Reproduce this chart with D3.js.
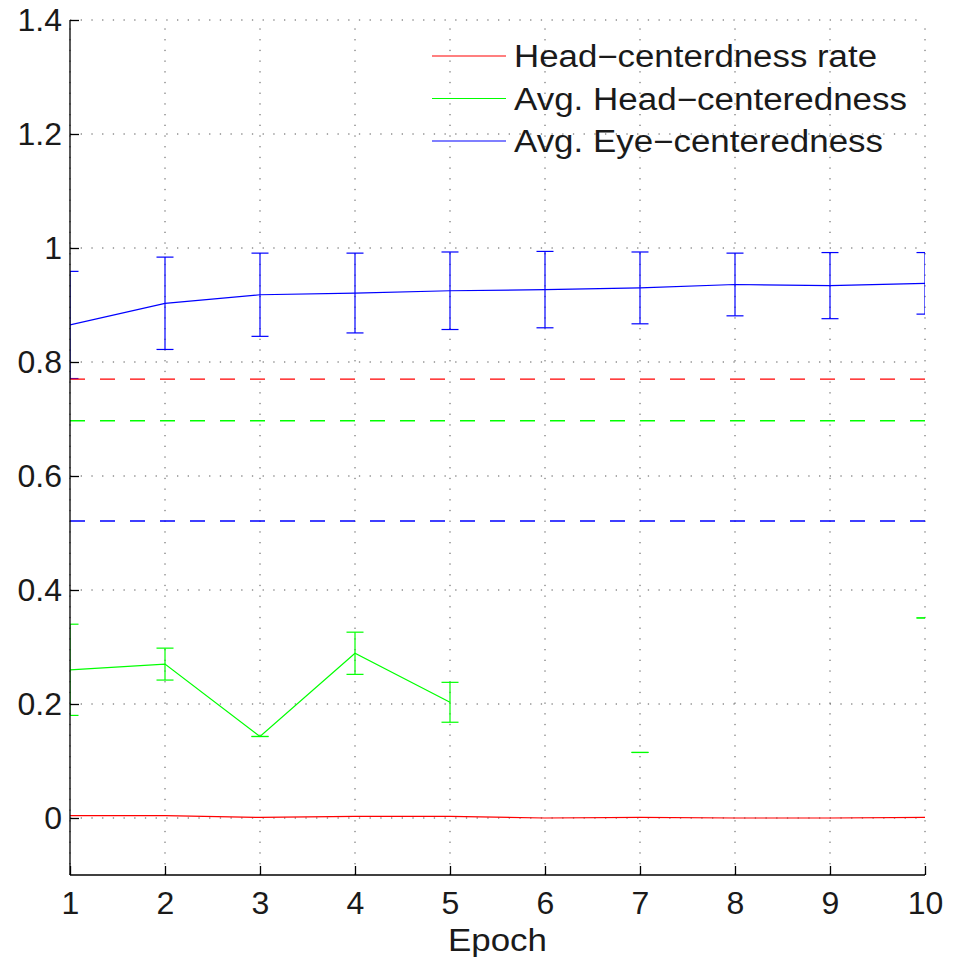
<!DOCTYPE html>
<html>
<head>
<meta charset="utf-8">
<script src="https://cdn.jsdelivr.net/npm/d3@7"></script>
<style>
  html, body { margin: 0; padding: 0; background: #fff; }
  svg { display: block; font-family: "Liberation Sans", Arial, Helvetica, sans-serif; }
</style>
</head>
<body>
<svg id="chart" width="956" height="957"></svg>
<script>
// Epochs on the x axis
const epochs = [1, 2, 3, 4, 5, 6, 7, 8, 9, 10];

// Head-centerdness rate (red)
const rateMean = [0.004, 0.004, 0.001, 0.003, 0.003, 0.0, 0.001, 0.0, 0.0, 0.001];

// Avg. Head-centeredness (green); null where no value was recorded
const headMean = [0.260, 0.270, 0.143, 0.289, 0.203, null, 0.115, null, null, 0.351];
const headErr  = [0.080, 0.028, 0.000, 0.037, 0.035, null, 0.000, null, null, 0.000];

// Avg. Eye-centeredness (blue)
const eyeMean = [0.865, 0.903, 0.918, 0.921, 0.925, 0.927, 0.930, 0.936, 0.934, 0.938];
const eyeErr  = [0.094, 0.081, 0.073, 0.070, 0.068, 0.067, 0.063, 0.055, 0.058, 0.054];

// Baseline levels (dashed)
const baselineValues = [0.770, 0.697, 0.521];

// Tick labels
const xTicks = [1, 2, 3, 4, 5, 6, 7, 8, 9, 10];
const yTicks = [0, 0.2, 0.4, 0.6, 0.8, 1, 1.2, 1.4];

const legendLabels = ["Head\u2212centerdness rate", "Avg. Head\u2212centeredness", "Avg. Eye\u2212centeredness"];
const legendWidths = [363, 393, 369];
const colors = ["#ff0000", "#00ff00", "#0000ff"];

const mLeft = 70, mRight = 925, mTop = 20, mBottom = 875;
const svg = d3.select("#chart");

const x = d3.scaleLinear().domain([1, 10]).range([mLeft, mRight]);
const y = d3.scaleLinear().domain([-0.1, 1.4]).range([mBottom, mTop]);

// Dotted grid
const grid = svg.append("g").attr("stroke", "#555").attr("stroke-width", 1)
  .attr("stroke-dasharray", "1.3,9.4");
grid.selectAll("line.v").data(xTicks).join("line")
  .attr("x1", d => x(d)).attr("x2", d => x(d))
  .attr("y1", mBottom).attr("y2", mTop);
grid.selectAll("line.h").data(yTicks).join("line")
  .attr("x1", mLeft).attr("x2", mRight)
  .attr("y1", d => y(d)).attr("y2", d => y(d));

// Clip data to the axes box
svg.append("clipPath").attr("id", "plotClip")
  .append("rect").attr("x", mLeft).attr("y", mTop)
  .attr("width", mRight - mLeft).attr("height", mBottom - mTop);
const plot = svg.append("g").attr("clip-path", "url(#plotClip)");

const line = d3.line()
  .defined(d => d.v !== null)
  .x(d => x(d.e)).y(d => y(d.v));

function series(means, errs, color) {
  const pts = epochs.map((e, i) => ({ e, v: means[i], err: errs ? errs[i] : null }));
  const g = plot.append("g").attr("stroke", color).attr("fill", "none").attr("stroke-width", 1.2);
  g.append("path").attr("d", line(pts));
  if (errs) {
    const cap = 8.5;
    const bars = pts.filter(p => p.v !== null && p.err !== null);
    g.selectAll("line.stem").data(bars).join("line")
      .attr("x1", p => x(p.e)).attr("x2", p => x(p.e))
      .attr("y1", p => y(p.v - p.err)).attr("y2", p => y(p.v + p.err));
    g.selectAll("line.capTop").data(bars).join("line")
      .attr("x1", p => x(p.e) - cap).attr("x2", p => x(p.e) + cap)
      .attr("y1", p => y(p.v + p.err)).attr("y2", p => y(p.v + p.err));
    g.selectAll("line.capBot").data(bars).join("line")
      .attr("x1", p => x(p.e) - cap).attr("x2", p => x(p.e) + cap)
      .attr("y1", p => y(p.v - p.err)).attr("y2", p => y(p.v - p.err));
  }
}
series(rateMean, null, colors[0]);
series(headMean, headErr, colors[1]);
series(eyeMean, eyeErr, colors[2]);

// Dashed baselines, drawn over the series
plot.selectAll("line.base").data(baselineValues).join("line")
  .attr("x1", mLeft).attr("x2", mRight)
  .attr("y1", d => y(d)).attr("y2", d => y(d))
  .attr("stroke", (d, i) => colors[i]).attr("stroke-width", 1.4)
  .attr("stroke-dasharray", "15,15");

// Axes (left and bottom, ticks inward)
const yAxis = d3.axisLeft(y).tickValues(yTicks).tickSize(-9).tickPadding(8)
  .tickFormat(d => d3.format("")(+d.toFixed(1)));
const gy = svg.append("g").attr("transform", `translate(${mLeft},0)`).call(yAxis);
gy.select(".domain").attr("d", `M0,${mBottom}V${mTop}`).attr("stroke", "#000").attr("stroke-width", 1.3);
gy.selectAll(".tick line").attr("stroke", "#000").attr("stroke-width", 1.3);
gy.selectAll(".tick text").attr("font-size", 32).attr("fill", "#1a1a1a")
  .attr("font-family", "Liberation Sans, Arial, sans-serif");

const xAxis = d3.axisBottom(x).tickValues(xTicks).tickSize(-9).tickPadding(16);
const gx = svg.append("g").attr("transform", `translate(0,${mBottom})`).call(xAxis);
gx.select(".domain").attr("d", `M${mLeft},0H${mRight}`).attr("stroke", "#000").attr("stroke-width", 1.3);
gx.selectAll(".tick line").attr("stroke", "#000").attr("stroke-width", 1.3);
gx.selectAll(".tick text").attr("font-size", 32).attr("fill", "#1a1a1a")
  .attr("font-family", "Liberation Sans, Arial, sans-serif");

// Axis title
svg.append("text").attr("x", (mLeft + mRight) / 2).attr("y", 951)
  .attr("text-anchor", "middle").attr("font-size", 32).attr("fill", "#1a1a1a")
  .attr("textLength", 99).attr("lengthAdjust", "spacingAndGlyphs")
  .text("Epoch");

// Legend
const legend = svg.append("g");
legendLabels.forEach((lab, i) => {
  const ly = 56 + i * 42.5;
  legend.append("line").attr("x1", 432).attr("x2", 506).attr("y1", ly).attr("y2", ly)
    .attr("stroke", colors[i]).attr("stroke-width", 1.2);
  legend.append("text").attr("x", 514).attr("y", ly + 11)
    .attr("font-size", 31).attr("fill", "#1a1a1a")
    .attr("textLength", legendWidths[i]).attr("lengthAdjust", "spacingAndGlyphs")
    .text(lab);
});
</script>
</body>
</html>
